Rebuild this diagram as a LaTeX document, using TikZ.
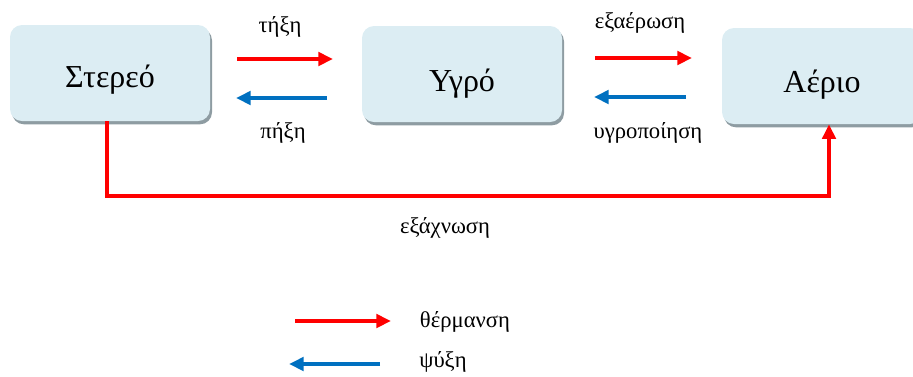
\documentclass[tikz,border=0pt]{standalone}
\usepackage{fontspec}
\setmainfont{Liberation Serif}
\usetikzlibrary{arrows.meta,shadows}
\definecolor{boxfill}{HTML}{DCEDF3}
\definecolor{boxshadow}{HTML}{8E9CA2}
\definecolor{heatred}{HTML}{FF0000}
\definecolor{coolblue}{HTML}{0070C0}
\begin{document}
\begin{tikzpicture}[x=0.75pt,y=-0.75pt,
  statebox/.style={rounded corners=9pt, fill=boxfill, minimum width=150pt, minimum height=72pt,
    inner sep=0pt,
    drop shadow={shadow xshift=1.5pt, shadow yshift=-2.5pt, fill=boxshadow, opacity=1}},
  statetext/.style={font=\fontsize{24}{28}\selectfont, inner sep=0pt},
  heat/.style={draw=heatred, line width=3pt, -{Triangle[length=11pt,width=10pt]}},
  cool/.style={draw=coolblue, line width=3pt, -{Triangle[length=11pt,width=10pt]}},
  lbl/.style={font=\fontsize{17}{20}\selectfont, inner sep=0pt}]
\useasboundingbox (0,0) rectangle (913,376);
\node[statebox] (s) at (110,73) {};
\node[statebox] (l) at (462,74) {};
\node[statebox] (g) at (822,76) {};
\node[statetext] (st) at (110,80) {Στερεό};
\node[statetext] (lt) at (462,84) {Υγρό};
\node[statetext] (gt) at (822,85) {Αέριο};
% arrows between boxes
\coordinate (a1s) at (237,59); \coordinate (a1e) at (333,59);
\coordinate (b1s) at (327,98); \coordinate (b1e) at (236,98);
\draw[heat] (a1s) -- (a1e);
\draw[cool] (b1s) -- (b1e);
\node[lbl] (t1) at (280,27) {τήξη};
\node[lbl] (t2) at (283,133) {πήξη};
\coordinate (a2s) at (595,58); \coordinate (a2e) at (692,58);
\coordinate (b2s) at (686,97); \coordinate (b2e) at (594,97);
\draw[heat] (a2s) -- (a2e);
\draw[cool] (b2s) -- (b2e);
\node[lbl] (t3) at (640,23) {εξαέρωση};
\node[lbl] (t4) at (648,133) {υγροποίηση};
% sublimation
\coordinate (c1) at (107,196);
\coordinate (c2) at (829,196);
\draw[heat, rounded corners=0pt] (s.south -| c1) -- (c1) -- (c2) -- (g.south -| c2);
\node[lbl] (t5) at (445,228) {εξάχνωση};
% legend
\coordinate (l1s) at (295,321); \coordinate (l1e) at (391,321);
\coordinate (l2s) at (380,364); \coordinate (l2e) at (289,364);
\draw[heat] (l1s) -- (l1e);
\draw[cool] (l2s) -- (l2e);
\node[lbl] (t6) at (465,322) {θέρμανση};
\node[lbl] (t7) at (443,362) {ψύξη};
\end{tikzpicture}
\end{document}
